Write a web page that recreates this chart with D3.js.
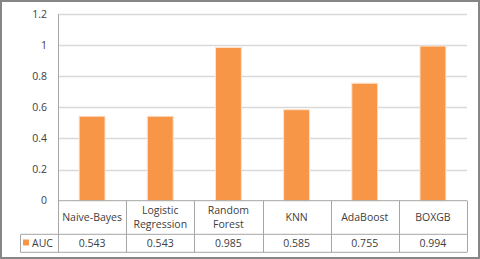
<!DOCTYPE html>
<html>
<head>
<meta charset="utf-8">
<script src="https://cdn.jsdelivr.net/npm/d3@7"></script>
<style>
  body { margin: 0; background: #fff; }
  svg { display: block; font-family: "Open Sans", "Noto Sans", sans-serif; }
</style>
</head>
<body>
<div id="chart"></div>
<script>
// Chart data
const categories = ['Naive-Bayes', 'Logistic Regression', 'Random Forest', 'KNN', 'AdaBoost', 'BOXGB'];
const labelLines = [['Naive-Bayes'], ['Logistic', 'Regression'], ['Random', 'Forest'], ['KNN'], ['AdaBoost'], ['BOXGB']];
const auc = [0.543, 0.543, 0.985, 0.585, 0.755, 0.994];
const valueLabels = ['0.543', '0.543', '0.985', '0.585', '0.755', '0.994'];
const yTicks = [0, 0.2, 0.4, 0.6, 0.8, 1, 1.2];
const seriesName = 'AUC';

const width = 480, height = 259;
const plot = { left: 58, right: 467, top: 14, bottom: 200.7 };
const table = { legendLeft: 20.5, row1Bottom: 234.3, row2Bottom: 252.3 };
const orange = '#f79646';
const textColor = '#404040';

const svg = d3.select('#chart').append('svg')
  .attr('width', width)
  .attr('height', height);

// Outer frame
svg.append('rect')
  .attr('x', 1).attr('y', 1)
  .attr('width', width - 2).attr('height', height - 2)
  .attr('fill', '#fff')
  .attr('stroke', '#868686')
  .attr('stroke-width', 2);

const x = d3.scaleBand()
  .domain(categories)
  .range([plot.left, plot.right])
  .paddingInner(0.62)
  .paddingOuter(0.31);

const y = d3.scaleLinear()
  .domain([0, 1.2])
  .range([plot.bottom, plot.top]);

const center = c => x(c) + x.bandwidth() / 2;

// Gridlines
svg.append('g')
  .selectAll('line')
  .data(yTicks.filter(d => d > 0))
  .join('line')
    .attr('x1', plot.left)
    .attr('x2', plot.right)
    .attr('y1', d => Math.round(y(d)) + 0.5)
    .attr('y2', d => Math.round(y(d)) + 0.5)
    .attr('stroke', '#d9d9d9')
    .attr('stroke-width', 1.5);

// Y tick labels
svg.append('g')
  .selectAll('text')
  .data(yTicks)
  .join('text')
    .attr('x', 47)
    .attr('y', d => y(d))
    .attr('dy', '0.35em')
    .attr('text-anchor', 'end')
    .style('font-size', '10.5px')
    .style('fill', textColor)
    .text(d => d3.format('~g')(d));

// Bars
svg.append('g')
  .selectAll('rect')
  .data(auc)
  .join('rect')
    .attr('x', (d, i) => x(categories[i]))
    .attr('y', d => y(d))
    .attr('width', x.bandwidth())
    .attr('height', d => y(0) - y(d))
    .attr('fill', orange)
    .attr('stroke', '#fbe3d0')
    .attr('stroke-width', 1);

// Y axis line
svg.append('line')
  .attr('x1', plot.left + 0.5).attr('x2', plot.left + 0.5)
  .attr('y1', plot.top).attr('y2', table.row2Bottom)
  .attr('stroke', '#a6a6a6');

// Data table lines
const grid = svg.append('g').attr('stroke', '#a6a6a6').attr('stroke-width', 1);
grid.append('line')
  .attr('x1', plot.left).attr('x2', plot.right)
  .attr('y1', plot.bottom).attr('y2', plot.bottom);
grid.append('line')
  .attr('x1', table.legendLeft).attr('x2', plot.right)
  .attr('y1', table.row1Bottom).attr('y2', table.row1Bottom);
grid.append('line')
  .attr('x1', table.legendLeft).attr('x2', plot.right)
  .attr('y1', table.row2Bottom).attr('y2', table.row2Bottom);
grid.append('line')
  .attr('x1', table.legendLeft).attr('x2', table.legendLeft)
  .attr('y1', table.row1Bottom).attr('y2', table.row2Bottom);

// column separators sit at the right edge of each band step
grid.selectAll('.col')
  .data(categories)
  .join('line')
    .attr('x1', c => Math.round(center(c) + x.step() / 2) + 0.5)
    .attr('x2', c => Math.round(center(c) + x.step() / 2) + 0.5)
    .attr('y1', plot.bottom)
    .attr('y2', table.row2Bottom);

// Category labels
const midY = (plot.bottom + table.row1Bottom) / 2;
const lineHeight = 13.4;
svg.append('g')
  .selectAll('text')
  .data(labelLines)
  .join('text')
    .attr('text-anchor', 'middle')
    .style('font-size', '10.5px')
    .style('fill', textColor)
  .each(function(lines, i) {
    d3.select(this).selectAll('tspan')
      .data(lines)
      .join('tspan')
        .attr('x', center(categories[i]))
        .attr('y', (d, j) => midY + (j - (lines.length - 1) / 2) * lineHeight)
        .attr('dy', '0.35em')
        .text(d => d);
  });

// Value row
const valueY = (table.row1Bottom + table.row2Bottom) / 2;
svg.append('g')
  .selectAll('text')
  .data(valueLabels)
  .join('text')
    .attr('x', (d, i) => center(categories[i]))
    .attr('y', valueY)
    .attr('dy', '0.35em')
    .attr('text-anchor', 'middle')
    .style('font-size', '10.5px')
    .style('fill', textColor)
    .text(d => d);

// Legend key in table
svg.append('rect')
  .attr('x', 23).attr('y', 239.5)
  .attr('width', 6).attr('height', 6)
  .attr('fill', orange);
svg.append('text')
  .attr('x', 32)
  .attr('y', valueY)
  .attr('dy', '0.35em')
  .style('font-size', '10.5px')
  .style('fill', textColor)
  .text(seriesName);
</script>
</body>
</html>
